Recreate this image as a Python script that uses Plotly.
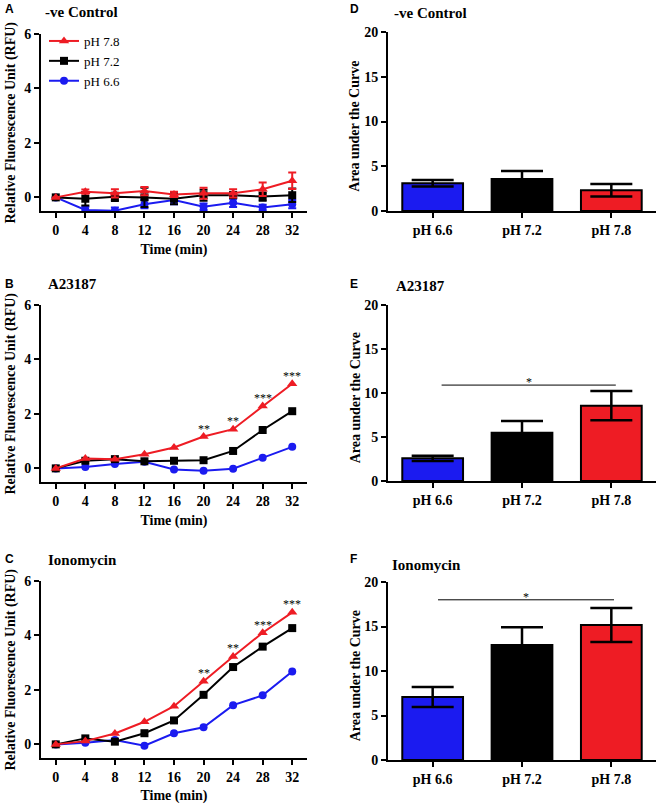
import plotly.graph_objects as go

# time points (min) and pH groups
time_min = [0, 4, 8, 12, 16, 20, 24, 28, 32]
ph_groups = ['pH 6.6', 'pH 7.2', 'pH 7.8']

# -ve control (RFU)
ctrl_ph78 = [0, 0.21, 0.15, 0.23, 0.11, 0.15, 0.15, 0.30, 0.61]
ctrl_ph72 = [0, -0.05, 0.02, 0.0, -0.05, 0.08, 0.08, 0.03, 0.08]
ctrl_ph66 = [0, -0.46, -0.49, -0.25, -0.10, -0.34, -0.20, -0.37, -0.25]
ctrl_ph78_err = [0, 0.08, 0.15, 0.15, 0.10, 0.20, 0.15, 0.25, 0.30]
ctrl_ph72_err = [0, 0.25, 0.15, 0.35, 0.20, 0.20, 0.10, 0.15, 0.25]
ctrl_ph66_err = [0, 0.12, 0.12, 0.15, 0.15, 0.12, 0.15, 0.10, 0.15]

# A23187 (RFU)
a23_ph78 = [0, 0.36, 0.34, 0.52, 0.77, 1.17, 1.44, 2.29, 3.11]
a23_ph72 = [0, 0.28, 0.34, 0.26, 0.28, 0.30, 0.64, 1.41, 2.10]
a23_ph66 = [0, 0.05, 0.16, 0.24, -0.04, -0.09, -0.01, 0.39, 0.79]
a23_stars = ['', '', '', '', '', '**', '**', '***', '***']

# Ionomycin (RFU)
iono_ph78 = [0, 0.12, 0.40, 0.83, 1.40, 2.32, 3.23, 4.10, 4.85]
iono_ph72 = [0, 0.22, 0.10, 0.41, 0.88, 1.82, 2.84, 3.59, 4.27]
iono_ph66 = [0, 0.06, 0.16, -0.05, 0.41, 0.63, 1.44, 1.80, 2.68]
iono_stars = ['', '', '', '', '', '**', '**', '***', '***']

# area under the curve
auc_ctrl = [3.10, 3.58, 2.31]
auc_ctrl_err = [0.35, 0.90, 0.70]
auc_a23 = [2.58, 5.49, 8.56]
auc_a23_err = [0.30, 1.33, 1.67]
auc_iono = [7.08, 12.92, 15.17]
auc_iono_err = [1.13, 2.00, 1.90]

# significance bars: [x from, x to, y]
sig_a23 = [0.1, 2.05, 10.9]
sig_iono = [0.06, 2.03, 18.0]

RED = '#ee1c24'
BLACK = '#000000'
BLUE = '#1b1bf0'
SERIF = 'Liberation Serif'
W, H = 661, 804


def px_x(p):
    return p / W


def px_y(p):
    return 1 - p / H


fig = go.Figure()

line_panels = [
    (ctrl_ph66, ctrl_ph72, ctrl_ph78, [ctrl_ph66_err, ctrl_ph72_err, ctrl_ph78_err], None),
    (a23_ph66, a23_ph72, a23_ph78, None, a23_stars),
    (iono_ph66, iono_ph72, iono_ph78, None, iono_stars),
]
styles = [('pH 6.6', BLUE, 'circle', 8), ('pH 7.2', BLACK, 'square', 8), ('pH 7.8', RED, 'triangle-up', 9)]

for i, (s66, s72, s78, errs, stars) in enumerate(line_panels):
    ax = 2 * i + 1
    for j, (name, col, sym, size) in enumerate(styles):
        vals = [s66, s72, s78][j]
        tr = go.Scatter(x=time_min, y=vals, mode='lines+markers', name=name,
                        line=dict(color=col, width=2),
                        marker=dict(color=col, symbol=sym, size=size),
                        xaxis='x%d' % ax, yaxis='y%d' % ax,
                        showlegend=(i == 0))
        if errs is not None:
            tr.error_y = dict(type='data', array=errs[j], color=col, thickness=2, width=4)
        fig.add_trace(tr)
    if stars:
        for t, v, s in zip(time_min, s78, stars):
            if s:
                fig.add_annotation(x=t, y=v, xref='x%d' % ax, yref='y%d' % ax, text=s,
                                   showarrow=False, yshift=8,
                                   font=dict(family=SERIF, size=12, color=BLACK))

bar_panels = [(auc_ctrl, auc_ctrl_err, None), (auc_a23, auc_a23_err, sig_a23), (auc_iono, auc_iono_err, sig_iono)]
for i, (vals, errs, sig) in enumerate(bar_panels):
    ax = 2 * i + 2
    fig.add_trace(go.Bar(x=ph_groups, y=vals, width=0.68,
                         marker=dict(color=[BLUE, BLACK, RED], line=dict(color=BLACK, width=2)),
                         error_y=dict(type='data', array=errs, color=BLACK, thickness=2.5, width=21),
                         xaxis='x%d' % ax, yaxis='y%d' % ax, showlegend=False))
    if sig:
        fig.add_shape(type='line', xref='x%d' % ax, yref='y%d' % ax,
                      x0=sig[0], x1=sig[1], y0=sig[2], y1=sig[2],
                      line=dict(color=BLACK, width=1))
        fig.add_annotation(x=(sig[0] + sig[1]) / 2, y=sig[2], xref='x%d' % ax, yref='y%d' % ax,
                           text='*', showarrow=False, yshift=3,
                           font=dict(family=SERIF, size=12, color=BLACK))

axis_common = dict(showline=True, linecolor=BLACK, linewidth=2, ticks='outside', ticklen=5,
                   tickwidth=2, tickcolor=BLACK, showgrid=False, zeroline=False, automargin=False,
                   tickfont=dict(family=SERIF, size=14, color=BLACK, weight='bold'))

# pixel boxes of the plot areas: (left, right, top, bottom)
line_boxes = [(41, 307, 34, 211), (41, 307, 305, 482), (41, 307, 581, 758)]
bar_boxes = [(388, 656, 32, 211), (388, 656, 305, 481), (388, 656, 582, 760)]

layout = {}
for i in range(3):
    l, r, t, b = line_boxes[i]
    ax = 2 * i + 1
    layout['xaxis%d' % ax] = dict(axis_common, domain=[px_x(l), px_x(r)], anchor='y%d' % ax,
                                  range=[-2, 34], tickvals=time_min,
                                  title=dict(text='Time (min)', standoff=7,
                                             font=dict(family=SERIF, size=14, color=BLACK, weight='bold')))
    layout['yaxis%d' % ax] = dict(axis_common, domain=[px_y(b), px_y(t)], anchor='x%d' % ax,
                                  range=[-0.5, 6], tickvals=[0, 2, 4, 6])
    l, r, t, b = bar_boxes[i]
    ax = 2 * i + 2
    layout['xaxis%d' % ax] = dict(axis_common, domain=[px_x(l), px_x(r)], anchor='y%d' % ax,
                                  range=[-0.5, 2.5])
    layout['yaxis%d' % ax] = dict(axis_common, domain=[px_y(b), px_y(t)], anchor='x%d' % ax,
                                  range=[0, 20], tickvals=[0, 5, 10, 15, 20])
layout['xaxis'] = layout.pop('xaxis1')
layout['yaxis'] = layout.pop('yaxis1')
fig.update_layout(**layout)

# y axis titles
for i in range(3):
    yref = 'y domain' if i == 0 else 'y%d domain' % (2 * i + 1)
    fig.add_annotation(x=px_x(10), y=0.5, xref='paper', yref=yref, textangle=-90,
                       xanchor='center', yanchor='middle',
                       text='Relative Fluorescence Unit (RFU)', showarrow=False,
                       font=dict(family=SERIF, size=14, color=BLACK, weight='bold'))
    fig.add_annotation(x=px_x(355), y=0.47, xref='paper', yref='y%d domain' % (2 * i + 2),
                       xanchor='center', yanchor='middle', textangle=-90,
                       text='Area under the Curve', showarrow=False,
                       font=dict(family=SERIF, size=14, color=BLACK, weight='bold'))

# panel titles and letters
titles = [('A', '-ve Control', 3, 43, 9, 12), ('B', 'A23187', 3, 46, 284, 284),
          ('C', 'Ionomycin', 3, 46, 559, 560), ('D', '-ve Control', 348, 392, 9, 13),
          ('E', 'A23187', 348, 394, 284, 286), ('F', 'Ionomycin', 348, 390, 559, 565)]
for letter, title, lx, tx, ly, ty in titles:
    fig.add_annotation(x=px_x(lx), y=px_y(ly), xref='paper', yref='paper',
                       xanchor='left', yanchor='middle',
                       text=letter, showarrow=False,
                       font=dict(family='Liberation Sans', size=12, color=BLACK, weight='bold'))
    fig.add_annotation(x=px_x(tx), y=px_y(ty), xref='paper', yref='paper',
                       xanchor='left', yanchor='middle',
                       text=title, showarrow=False,
                       font=dict(family=SERIF, size=15, color=BLACK, weight='bold'))

fig.update_layout(
    width=W, height=H, margin=dict(l=0, r=0, t=0, b=0),
    paper_bgcolor='white', plot_bgcolor='white',
    legend=dict(x=px_x(44), y=px_y(26), xanchor='left', yanchor='top', traceorder='reversed',
                bgcolor='rgba(0,0,0,0)', itemwidth=30,
                font=dict(family=SERIF, size=13, color=BLACK)),
)

fig.write_html('out.html', config={'displayModeBar': False},
               post_script="document.body.style.margin='0';")
